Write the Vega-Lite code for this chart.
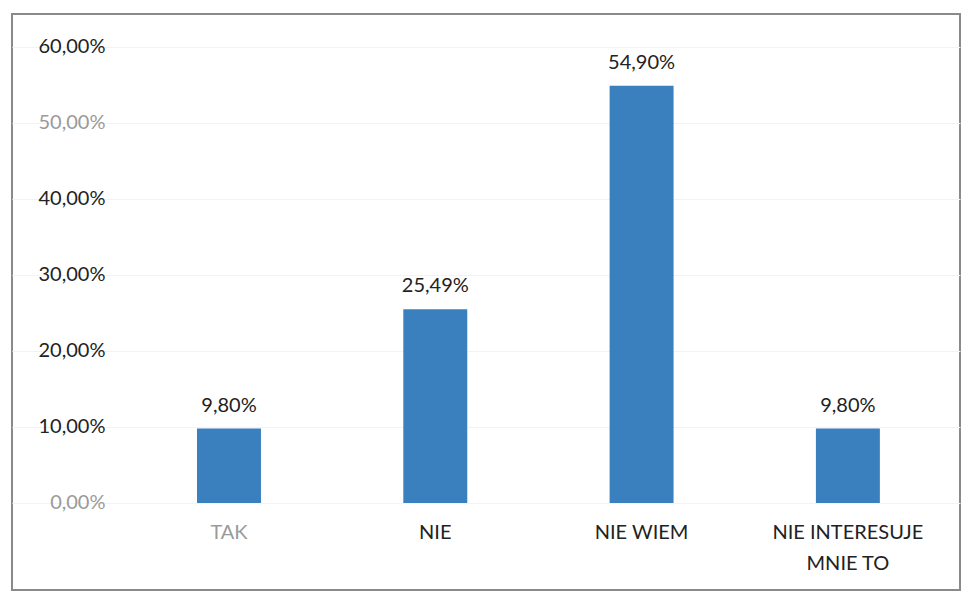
{
  "$schema": "https://vega.github.io/schema/vega-lite/v6.json",
  "autosize": "none",
  "padding": {"left": 12, "top": 14, "right": 6, "bottom": 2},
  "width": 948,
  "height": 576,
  "background": "white",
  "config": {
    "locale": {"number": {"decimal": ",", "thousands": " ", "grouping": [3], "currency": ["", " zł"]}},
    "view": {"stroke": "#8a8a8a", "strokeWidth": 2},
    "font": "Lato"
  },
  "data": {
    "values": [
      {"odp": "TAK", "val": 0.098},
      {"odp": "NIE", "val": 0.2549},
      {"odp": "NIE WIEM", "val": 0.549},
      {"odp": "NIE INTERESUJE MNIE TO", "val": 0.098}
    ]
  },
  "encoding": {
    "x": {
      "field": "odp",
      "type": "nominal",
      "sort": null,
      "scale": {"paddingInner": 0, "paddingOuter": 0.2976, "align": 0.927},
      "axis": {
        "title": null,
        "orient": "bottom",
        "offset": -87,
        "domain": false,
        "ticks": false,
        "labelAngle": 0,
        "labelPadding": 19,
        "labelFontSize": 20,
        "labelFont": "Lato",
        "labelColor": {"condition": {"test": "datum.value == 'TAK'", "value": "#9a9a9a"}, "value": "#222222"},
        "labelExpr": "datum.label == 'NIE INTERESUJE MNIE TO' ? ['NIE INTERESUJE', 'MNIE TO'] : datum.label",
        "labelLineHeight": 31
      }
    },
    "y": {
      "field": "val",
      "type": "quantitative",
      "scale": {"domain": [-0.1145, 0.6434], "nice": false},
      "axis": {
        "title": null,
        "values": [0, 0.1, 0.2, 0.3, 0.4, 0.5, 0.6],
        "format": ".2%",
        "offset": -100,
        "domain": false,
        "ticks": false,
        "labelPadding": 7,
        "labelFontSize": 20,
        "labelFont": "Lato",
        "labelColor": {"condition": {"test": "datum.value == 0.5 || datum.value == 0", "value": "#9a9a9a"}, "value": "#222222"},
        "grid": true,
        "gridColor": "#f3f3f3",
        "gridWidth": 1
      }
    }
  },
  "layer": [
    {
      "mark": {"type": "bar", "color": "#3a7fbe", "width": {"band": 0.31}}
    },
    {
      "mark": {"type": "text", "baseline": "alphabetic", "dy": -17, "fontSize": 20, "font": "Lato", "color": "#222222"},
      "encoding": {
        "text": {"field": "val", "type": "quantitative", "format": ".2%"}
      }
    }
  ]
}
